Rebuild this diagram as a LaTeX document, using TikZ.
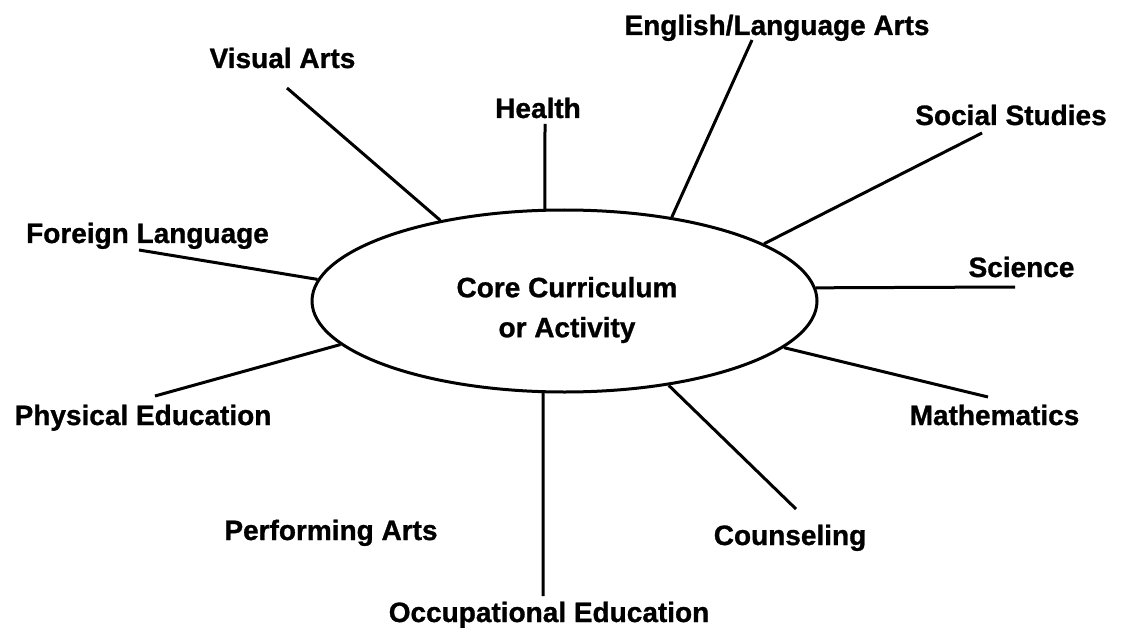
\documentclass[tikz,border=0pt]{standalone}
\usepackage{fontspec}
\setmainfont{Liberation Sans}[BoldFeatures={FakeBold=1}]
\usetikzlibrary{shapes.geometric}

\begin{document}
\begin{tikzpicture}[x=1pt,y=-1pt,
    every node/.style={font=\fontsize{28}{40}\selectfont\bfseries,inner sep=0pt},
    hub/.style={ellipse,draw,line width=3pt,minimum width=505pt,minimum height=182pt},
    spoke/.style={line width=3pt}]
  \useasboundingbox (0,0) rectangle (1123,636);

  \node[hub] (core) at (564.5,301) {};
  \node[align=center] (coretext) at (567,310) {Core Curriculum\\or Activity};

  % subject labels, set on their baselines
  \node[anchor=base] (visual)   at (282.5,68)  {Visual Arts};
  \node[anchor=base] (health)   at (538,118)   {Health};
  \node[anchor=base] (english)  at (777,35)    {English/Language Arts};
  \node[anchor=base] (social)   at (1011,125)  {Social Studies};
  \node[anchor=base] (science)  at (1021.5,277) {Science};
  \node[anchor=base] (maths)    at (994.5,425) {Mathematics};
  \node[anchor=base] (counsel)  at (790,545)   {Counseling};
  \node[anchor=base] (occup)    at (549,622)   {Occupational Education};
  \node[anchor=base] (perform)  at (331,540)   {Performing Arts};
  \node[anchor=base] (physical) at (143,425)   {Physical Education};
  \node[anchor=base] (foreign)  at (147.5,243) {Foreign Language};

  % outer ends of the spokes
  \coordinate (visual-end)   at (287,88);
  \coordinate (health-end)   at (545,124);
  \coordinate (english-end)  at (752,40);
  \coordinate (social-end)   at (982,133);
  \coordinate (science-end)  at (1015,287);
  \coordinate (maths-end)    at (988,397);
  \coordinate (counsel-end)  at (796,509);
  \coordinate (occup-end)    at (543,596);
  \coordinate (physical-end) at (155,396);
  \coordinate (foreign-end)  at (139,250);

  \draw[spoke] (core.147) -- (visual-end);
  \draw[spoke] (core.102) -- (health-end);
  \draw[spoke] (core.38)  -- (english-end);
  \draw[spoke] (core.16)  -- (social-end);
  \draw[spoke] (core.3)   -- (science-end);
  \draw[spoke] (core.348) -- (maths-end);
  \draw[spoke] (core.321) -- (counsel-end);
  \draw[spoke] (core.257) -- (occup-end);
  \draw[spoke] (core.191) -- (physical-end);
  \draw[spoke] (core.175) -- (foreign-end);
\end{tikzpicture}
\end{document}
